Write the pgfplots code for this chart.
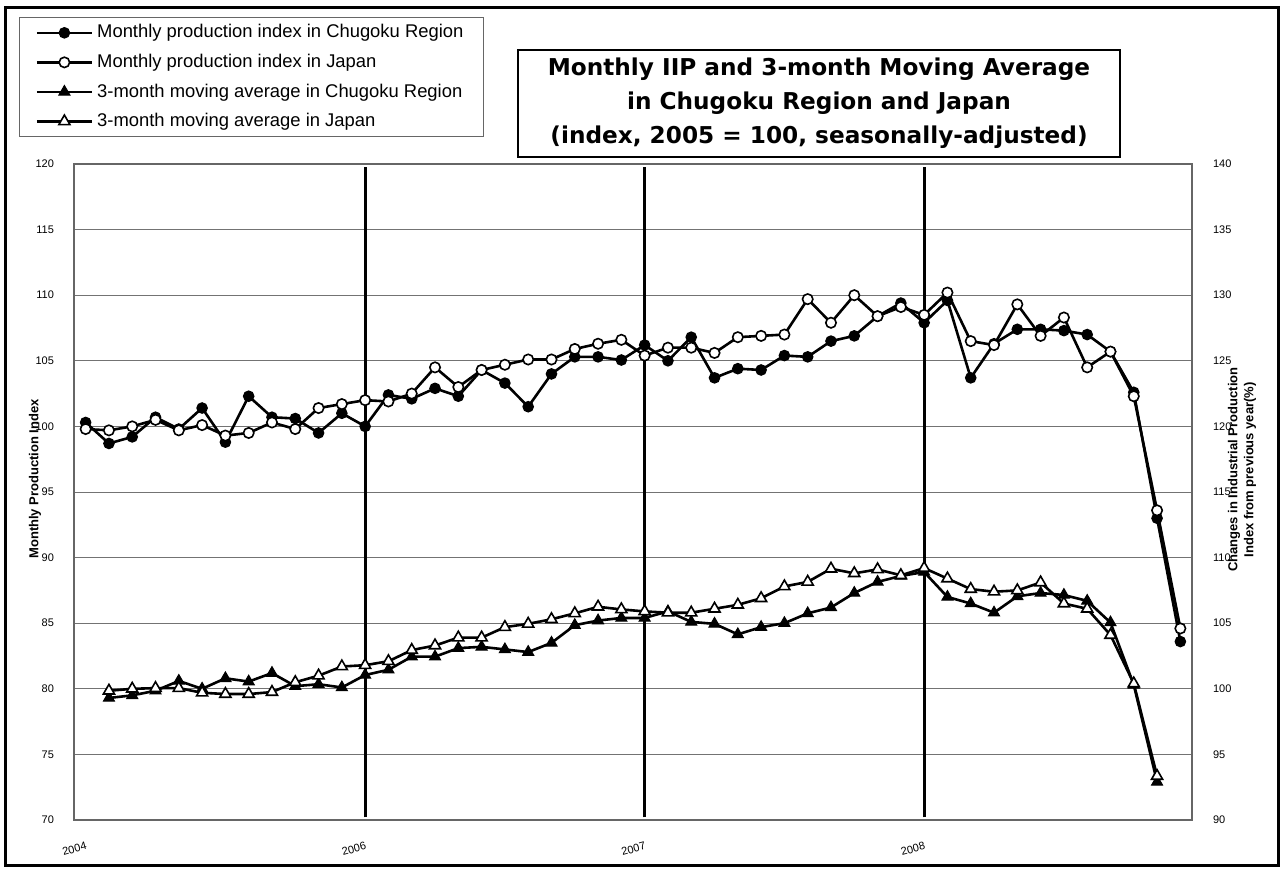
\documentclass[border=0pt]{standalone}
\usepackage{fontspec}
\setmainfont{Liberation Sans}
\newfontfamily\titlefont{DejaVu Sans}
\usepackage{pgfplots}
\pgfplotsset{compat=1.18}
\usepackage{pgfplotstable}

\pgfplotstableread{
i cm jm
0 100.3 99.8
1 98.7 99.7
2 99.2 100.0
3 100.7 100.5
4 99.8 99.7
5 101.4 100.1
6 98.8 99.3
7 102.3 99.5
8 100.7 100.3
9 100.6 99.8
10 99.5 101.4
11 101.0 101.7
12 100.0 102.0
13 102.4 101.9
14 102.1 102.5
15 102.9 104.5
16 102.3 103.0
17 104.3 104.3
18 103.3 104.7
19 101.5 105.1
20 104.0 105.1
21 105.3 105.9
22 105.3 106.3
23 105.06 106.6
24 106.2 105.4
25 105.0 106.0
26 106.8 106.0
27 103.7 105.6
28 104.4 106.8
29 104.3 106.9
30 105.4 107.0
31 105.3 109.7
32 106.5 107.9
33 106.9 110.0
34 108.4 108.4
35 109.4 109.1
36 107.9 108.5
37 109.6 110.2
38 103.7 106.5
39 106.3 106.2
40 107.4 109.3
41 107.4 106.9
42 107.3 108.3
43 107.0 104.5
44 105.7 105.7
45 102.6 102.3
46 93.0 93.6
47 83.6 84.6
}\monthly

\pgfplotstableread{
i cma jma
1 79.3 79.85
2 79.5 80.0
3 79.85 80.05
4 80.6 80.05
5 80.0 79.7
6 80.8 79.6
7 80.55 79.6
8 81.2 79.75
9 80.2 80.5
10 80.35 81.0
11 80.1 81.7
12 81.05 81.8
13 81.45 82.1
14 82.45 82.95
15 82.45 83.3
16 83.1 83.9
17 83.2 83.9
18 83.0 84.7
19 82.8 84.95
20 83.5 85.3
21 84.85 85.75
22 85.2 86.25
23 85.4 86.05
24 85.4 85.9
25 85.9 85.8
26 85.1 85.8
27 84.95 86.1
28 84.15 86.4
29 84.7 86.9
30 85.0 87.8
31 85.75 88.15
32 86.2 89.15
33 87.3 88.8
34 88.15 89.1
35 88.6 88.65
36 88.9 89.2
37 87.0 88.4
38 86.5 87.6
39 85.8 87.4
40 87.05 87.5
41 87.3 88.1
42 87.15 86.5
43 86.7 86.1
44 85.05 84.1
45 80.3 80.4
46 72.9 73.35
}\mavg

\begin{document}
\begin{tikzpicture}
\path[use as bounding box] (0,0) rectangle (640pt,434pt);

\begin{axis}[
  at={(37pt,24pt)}, anchor=south west,
  scale only axis, width=559pt, height=328pt,
  xmin=-0.5, xmax=47.5, ymin=70, ymax=120,
  xtick={0,12,24,36}, xticklabels={2004,2006,2007,2008},
  ytick={70,75,...,120},
  ymajorgrids, grid style={black!55, line width=0.5pt},
  major tick length=0pt,
  axis line style={black!60, line width=0.8pt},
  /pgf/number format/assume math mode=true,
  tick label style={font=\fontsize{5.5}{6.5}\selectfont},
  y tick label style={xshift=-6.5pt},
  x tick label style={rotate=15, anchor=north east, yshift=-7pt, xshift=0.5pt},
  ylabel={Monthly Production Index},
  ylabel style={font=\bfseries\fontsize{6.5}{7.5}\selectfont, at={(axis description cs:-0.0349,0.52)}, anchor=center},
  legend style={at={(axis description cs:-0.0492,1.224)}, anchor=north west,
    draw=black!60, line width=0.6pt, fill=white, inner xsep=8pt, inner ysep=1.5pt,
    row sep=2.6pt, font=\fontsize{9.2}{10.8}\selectfont},
  legend cell align=left,
  legend image code/.code={\draw[mark repeat=2,mark phase=2,#1] plot coordinates {(0pt,0pt) (13.75pt,0pt) (27.5pt,0pt)};},
]
\addplot[black, line width=1.3pt, mark=*, mark size=2.6pt, mark options={solid, fill=black, line width=0.6pt}] table[x=i,y=cm]{\monthly};
\addlegendentry{Monthly production index in Chugoku Region}
\addplot[black, line width=1.3pt, mark=*, mark size=2.6pt, mark options={solid, fill=white, draw=black, line width=0.8pt}] table[x=i,y=jm]{\monthly};
\addlegendentry{Monthly production index in Japan}
\addplot[black, line width=1.3pt, mark=triangle*, mark size=3.2pt, mark options={solid, fill=black, line width=0.5pt}] table[x=i,y=cma]{\mavg};
\addlegendentry{3-month moving average in Chugoku Region}
\addplot[black, line width=1.3pt, mark=triangle*, mark size=3.2pt, mark options={solid, fill=white, draw=black, line width=0.8pt}] table[x=i,y=jma]{\mavg};
\addlegendentry{3-month moving average in Japan}
\addplot[black, line width=1.5pt, forget plot] coordinates {(12,70.2) (12,119.8)};
\addplot[black, line width=1.5pt, forget plot] coordinates {(24,70.2) (24,119.8)};
\addplot[black, line width=1.5pt, forget plot] coordinates {(36,70.2) (36,119.8)};
\end{axis}

\begin{axis}[
  at={(37pt,24pt)}, anchor=south west,
  scale only axis, width=559pt, height=328pt,
  xmin=-0.5, xmax=47.5, ymin=90, ymax=140,
  ytick={90,95,...,140},
  axis y line*=right, axis x line=none,
  major tick length=0pt,
  axis line style={black!60, line width=0.8pt},
  /pgf/number format/assume math mode=true,
  tick label style={font=\fontsize{5.5}{6.5}\selectfont},
  y tick label style={xshift=7pt},
  ylabel={Changes in Industrial Production\\Index from previous year(\%)},
  ylabel style={align=center, font=\bfseries\fontsize{6.5}{8}\selectfont, at={(axis description cs:1.0447,0.534)}, anchor=center},
]
\end{axis}

\draw[line width=1.5pt] (2.5pt,1.5pt) rectangle (639pt,430pt);
\node[draw, line width=1.2pt, fill=white, minimum width=301pt, minimum height=53.5pt, inner sep=0pt, align=center,
  font=\titlefont\bfseries\fontsize{11.6}{17}\selectfont] at (409.5pt,382.25pt)
  {Monthly IIP and 3-month Moving Average\\in Chugoku Region and Japan\\(index, 2005 = 100, seasonally-adjusted)};
\end{tikzpicture}
\end{document}
